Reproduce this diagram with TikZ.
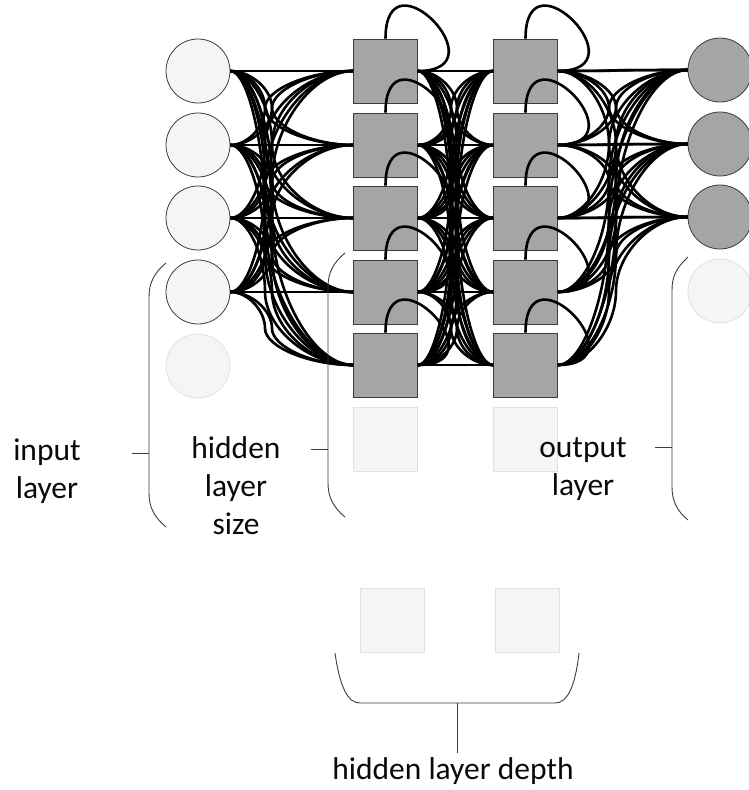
\documentclass[tikz,border=0pt]{standalone}
\usepackage{fontspec}
\setmainfont{Carlito}
\usetikzlibrary{calc}
\definecolor{lightfill}{RGB}{245,245,245}
\definecolor{darkfill}{RGB}{165,165,165}
\definecolor{edgegray}{RGB}{60,60,60}
\definecolor{faintedge}{RGB}{225,225,225}
\definecolor{txt}{RGB}{10,10,10}
\tikzset{
  inpnode/.style={circle,draw=edgegray,fill=lightfill,line width=0.8pt,minimum size=64pt,inner sep=0pt},
  outnode/.style={circle,draw=edgegray,fill=darkfill,line width=0.8pt,minimum size=64pt,inner sep=0pt},
  faintcirc/.style={circle,draw=faintedge,fill=lightfill,line width=0.8pt,minimum size=64pt,inner sep=0pt},
  hidnode/.style={rectangle,draw=edgegray,fill=darkfill,line width=0.8pt,minimum size=64pt,inner sep=0pt},
  faintsq/.style={rectangle,draw=faintedge,fill=lightfill,line width=0.8pt,minimum size=64pt,inner sep=0pt},
  conn/.style={draw=black,line width=2.6pt},
  brace/.style={draw=edgegray,line width=0.9pt},
  lbl/.style={font=\fontsize{31.5}{38}\selectfont,text=txt,align=center,inner sep=0pt}
}
% curved connector: start, end, coordinate giving x of the vertical middle
\newcommand\curvecon[3]{%
  \draw[conn] let \p1=(#1), \p2=(#2), \p3=(#3) in
    (\p1) .. controls ({(\x1+\x3)/2},\y1) and (\x3,{\y1+(\y2-\y1)/4}) ..
    (\x3,{(\y1+\y2)/2}) .. controls (\x3,{\y1+3*(\y2-\y1)/4}) and ({(\x3+\x2)/2},\y2) .. (\p2);
}
\begin{document}
\begin{tikzpicture}[x=1pt,y=-1pt]
\useasboundingbox (0,0) rectangle (748,790);
% nodes
\foreach \k/\y in {1/71,2/145,3/218,4/292}{\node[inpnode] (i\k) at (198,\y) {};}
\node[faintcirc] (i5) at (198,366) {};
\foreach \k/\y in {1/71,2/145,3/218,4/292,5/365}{
  \node[hidnode] (a\k) at (385.5,\y) {};
  \node[hidnode] (b\k) at (525.5,\y) {};
}
\node[faintsq] (a6) at (385.5,439) {};
\node[faintsq] (b6) at (525.5,439) {};
\foreach \k/\y in {1/70,2/144,3/217}{\node[outnode] (o\k) at (720,\y) {};}
\node[faintcirc] (o4) at (720,291) {};
\node[faintsq] (c1) at (392.5,620.5) {};
\node[faintsq] (c2) at (527,620.5) {};
% bend coordinates
\coordinate (m1) at (265,0);
\coordinate (m1b) at (272,0);
\coordinate (m2) at (451,0);
\coordinate (m2b) at (457,0);
\coordinate (m3) at (609,0);
\coordinate (m3b) at (616,0);
% connections
\foreach \i in {1,...,4}{\foreach \j in {1,...,5}{
  \curvecon{i\i.east}{a\j.west}{m1}
  \curvecon{i\i.east}{a\j.west}{m1b}
}}
\foreach \i in {1,...,5}{\foreach \j in {1,...,5}{
  \curvecon{a\i.east}{b\j.west}{m2}
  \curvecon{a\i.east}{b\j.west}{m2b}
}}
\foreach \i in {1,...,5}{\foreach \j in {1,...,3}{
  \curvecon{b\i.east}{o\j.west}{m3}
  \curvecon{b\i.east}{o\j.west}{m3b}
}}
% self loops
\foreach \n in {a1,a2,a3,a4,a5,b1,b2,b3,b4,b5}{
  \draw[conn] (\n.north) .. controls +(0,-90) and +(85,0) .. (\n.east);
}
% brackets
\draw[brace] (166,263) .. controls (154,273) and (149,283) .. (149,297) -- (149,493) .. controls (149,507) and (154,517) .. (166,527);
\coordinate (t1) at (132,453);
\draw[brace] (t1) -- (149,453);
\draw[brace] (345,253) .. controls (333,263) and (328,273) .. (328,287) -- (328,483) .. controls (328,497) and (333,507) .. (345,517);
\coordinate (t2) at (311,449);
\draw[brace] (t2) -- (328,449);
\draw[brace] (688,257) .. controls (677,267) and (672,276) .. (672,290) -- (672,487) .. controls (672,501) and (677,511) .. (688,520);
\coordinate (t3) at (655,447);
\draw[brace] (t3) -- (672,447);
\draw[brace] (335,653) .. controls (340,688) and (348,703) .. (360,703) -- (555,703) .. controls (567,703) and (575,688) .. (579,653);
\coordinate (t4) at (457,753);
\draw[brace] (457,703) -- (t4);
% labels
\node[lbl] (L1) at (47,471) {input\\layer};
\node[lbl] (L2) at (236,486) {hidden\\layer\\size};
\node[lbl] (L3) at (583,469) {output\\layer};
\node[lbl] (L4) at (453,771) {hidden layer depth};
\end{tikzpicture}
\end{document}
